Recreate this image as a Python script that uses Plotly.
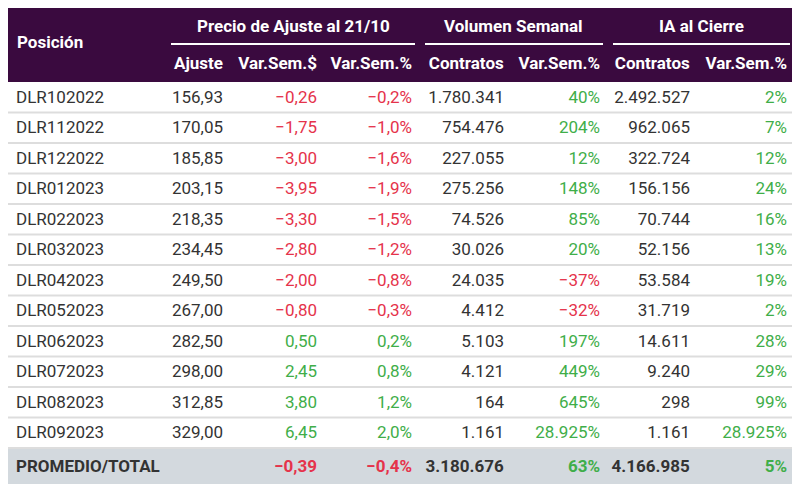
import plotly.graph_objects as go

posiciones = ['DLR102022', 'DLR112022', 'DLR122022', 'DLR012023', 'DLR022023', 'DLR032023',
              'DLR042023', 'DLR052023', 'DLR062023', 'DLR072023', 'DLR082023', 'DLR092023']
ajuste = [156.93, 170.05, 185.85, 203.15, 218.35, 234.45, 249.50, 267.00, 282.50, 298.00, 312.85, 329.00]
var_sem_pesos = [-0.26, -1.75, -3.00, -3.95, -3.30, -2.80, -2.00, -0.80, 0.50, 2.45, 3.80, 6.45]
var_sem_pct = [-0.2, -1.0, -1.6, -1.9, -1.5, -1.2, -0.8, -0.3, 0.2, 0.8, 1.2, 2.0]
vol_contratos = [1780341, 754476, 227055, 275256, 74526, 30026, 24035, 4412, 5103, 4121, 164, 1161]
vol_var_pct = [40, 204, 12, 148, 85, 20, -37, -32, 197, 449, 645, 28925]
ia_contratos = [2492527, 962065, 322724, 156156, 70744, 52156, 53584, 31719, 14611, 9240, 298, 1161]
ia_var_pct = [2, 7, 12, 24, 16, 13, 19, 2, 28, 29, 99, 28925]

total_label = 'PROMEDIO/TOTAL'
total_var_pesos = -0.39
total_var_pct = -0.4
total_vol = 3180676
total_vol_var = 63
total_ia = 4166985
total_ia_var = 5

grupos = ['Precio de Ajuste al 21/10', 'Volumen Semanal', 'IA al Cierre']
subcols = ['Ajuste', 'Var.Sem.$', 'Var.Sem.%', 'Contratos', 'Var.Sem.%', 'Contratos', 'Var.Sem.%']

PURPLE = '#3a0a3f'
RED = '#e5334b'
GREEN = '#3fae49'
DARK = '#333333'
FOOT = '#d3d9de'


def miles(n):
    return f'{n:,}'.replace(',', '.')


def dec(v, nd=2):
    s = f'{abs(v):.{nd}f}'.replace('.', ',')
    return ('\u2212' if v < 0 else '') + s


def col_color(vals):
    return [RED if v < 0 else GREEN for v in vals]


def b(s):
    return '<b>' + s + '</b>'


c0 = posiciones + [b(total_label)]
c1 = [dec(v) for v in ajuste] + ['']
c2 = [dec(v) for v in var_sem_pesos] + [b(dec(total_var_pesos))]
c3 = [dec(v, 1) + '%' for v in var_sem_pct] + [b(dec(total_var_pct, 1) + '%')]
c4 = [miles(v) for v in vol_contratos] + [b(miles(total_vol))]
c5 = [('\u2212' if v < 0 else '') + miles(abs(v)) + '%' for v in vol_var_pct] + [b(miles(total_vol_var) + '%')]
c6 = [miles(v) for v in ia_contratos] + [b(miles(total_ia))]
c7 = [miles(v) + '%' for v in ia_var_pct] + [b(miles(total_ia_var) + '%')]

n = len(posiciones) + 1
dark_col = [DARK] * n
colors = [
    dark_col, dark_col,
    col_color(var_sem_pesos + [total_var_pesos]),
    col_color(var_sem_pct + [total_var_pct]),
    dark_col,
    col_color(vol_var_pct + [total_vol_var]),
    dark_col,
    col_color(ia_var_pct + [total_ia_var]),
]
fill = [['white'] * (n - 1) + [FOOT]] * 8

# the page body adds an 8px margin, so the figure is 8px smaller than the window
W, H = 792, 479
widths = [158, 65, 94, 95, 92, 96, 90, 97]
x0 = 0
x1 = x0 + sum(widths)
top = 0
head_h = 37
row_h = 30.5

fig = go.Figure(go.Table(
    domain=dict(x=[x0 / W, min(x1 / W, 1)], y=[0, 1 - top / H]),
    columnwidth=widths,
    header=dict(
        values=[['', '']] + [['', b(s)] for s in subcols],
        fill_color=PURPLE,
        line=dict(width=0, color=PURPLE),
        align=['left'] + ['right'] * 7,
        font=dict(family='Roboto', size=17, color='white'),
        height=head_h,
    ),
    cells=dict(
        values=[c0, c1, c2, c3, c4, c5, c6, c7],
        fill_color=fill,
        line=dict(width=0, color='white'),
        align=['left'] + ['right'] * 7,
        font=dict(family='Roboto', size=17, color=colors),
        height=row_h,
    ),
))

edges = [x0]
for w in widths:
    edges.append(edges[-1] + w)

annotations = [dict(text=b('Posición'), x=(x0 + 7) / W, y=1 - (top + 34) / H,
                    xanchor='left', yanchor='middle', showarrow=False)]
shapes = []
spans = [(1, 4), (4, 6), (6, 8)]
for g, (a, z) in zip(grupos, spans):
    xa = edges[a] + 5
    xz = min(edges[z] - 5, 785)
    annotations.append(dict(text=b(g), x=(xa + xz) / 2 / W, y=1 - (top + 18) / H,
                            xanchor='center', yanchor='middle', showarrow=False))
    shapes.append(dict(type='line', xref='paper', yref='paper',
                       x0=xa / W, x1=xz / W, y0=1 - (top + 36) / H, y1=1 - (top + 36) / H,
                       line=dict(color='white', width=2)))

for i in range(1, n):
    yy = top + 2 * head_h + i * row_h
    shapes.append(dict(type='line', xref='paper', yref='paper',
                       x0=x0 / W, x1=min(x1 / W, 1), y0=1 - yy / H, y1=1 - yy / H,
                       line=dict(color='#dddddd', width=2), layer='above'))

fig.update_layout(
    width=W, height=H,
    margin=dict(l=0, r=0, t=0, b=0),
    paper_bgcolor='white',
    font=dict(family='Roboto', size=17, color='white'),
    annotations=annotations,
    shapes=shapes,
)

fig.write_html('out.html')
